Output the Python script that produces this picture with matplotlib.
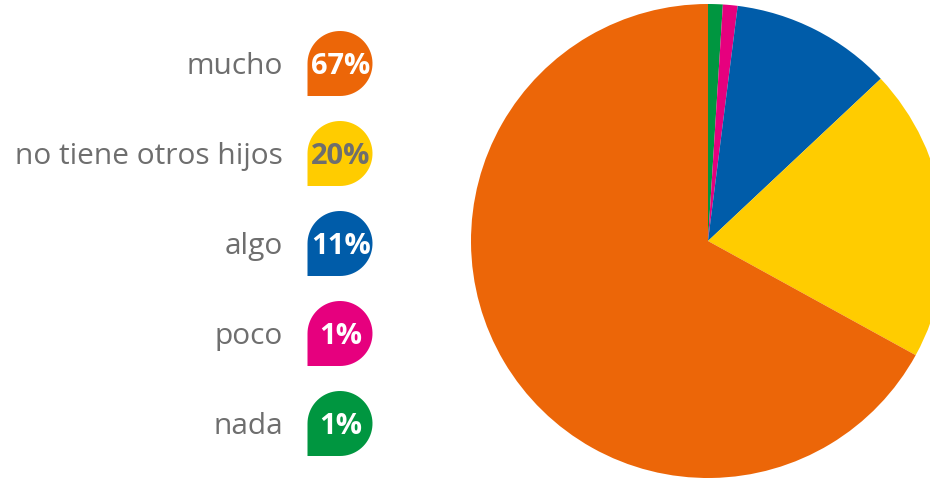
import matplotlib
matplotlib.use('Agg')
import matplotlib.pyplot as plt
from matplotlib.path import Path
from matplotlib.patches import PathPatch
import numpy as np

# datos
categorias = ['mucho', 'no tiene otros hijos', 'algo', 'poco', 'nada']
valores = [67, 20, 11, 1, 1]
colores = ['#EC6608', '#FFCC00', '#005CA9', '#E6007E', '#009640']
color_texto_pct = ['white', '#6E6E6E', 'white', 'white', 'white']

W, H = 930, 478
fig = plt.figure(figsize=(W / 100, H / 100), dpi=100)

# pastel: centro (708, 241), radio 237 px
cx, cy, r = 708, 241, 237
ax_pie = fig.add_axes([(cx - r) / W, (H - cy - r) / H, 2 * r / W, 2 * r / H])
# orden en sentido horario desde arriba: nada, poco, algo, no tiene, mucho
orden = [4, 3, 2, 1, 0]
ax_pie.pie([valores[i] for i in orden], colors=[colores[i] for i in orden],
           startangle=90, counterclock=False, radius=1,
           wedgeprops=dict(linewidth=0))
ax_pie.set_xlim(-1, 1)
ax_pie.set_ylim(-1, 1)
ax_pie.set_aspect('auto')
ax_pie.axis('off')

# leyenda con marcadores en forma de gota
ax = fig.add_axes([0, 0, 1, 1])
ax.set_xlim(0, W)
ax.set_ylim(0, H)
ax.axis('off')


def gota(x0, y0, rad):
    t = np.linspace(-np.pi / 2, np.pi, 60)
    pts = [(x0 + rad * np.cos(a), y0 + rad * np.sin(a)) for a in t]
    pts.append((x0 - rad, y0 - rad))
    pts.append((x0, y0 - rad))
    codes = [Path.MOVETO] + [Path.LINETO] * (len(pts) - 2) + [Path.CLOSEPOLY]
    return Path(pts, codes)


mx, rad = 340, 32.5
for i, cat in enumerate(categorias):
    y = H - (63.5 + 90 * i)
    ax.add_patch(PathPatch(gota(mx, y, rad), facecolor=colores[i], edgecolor='none'))
    ax.text(mx + 1, y - 3, f'{valores[i]}%', ha='center', va='center',
            fontsize=21, fontweight='bold', color=color_texto_pct[i], family='Open Sans')
    ax.text(283, y - 3, cat, ha='right', va='center', fontsize=21.5,
            color='#6E6E6E', family='Open Sans')

plt.savefig('out.png', dpi=100)
plt.close()
